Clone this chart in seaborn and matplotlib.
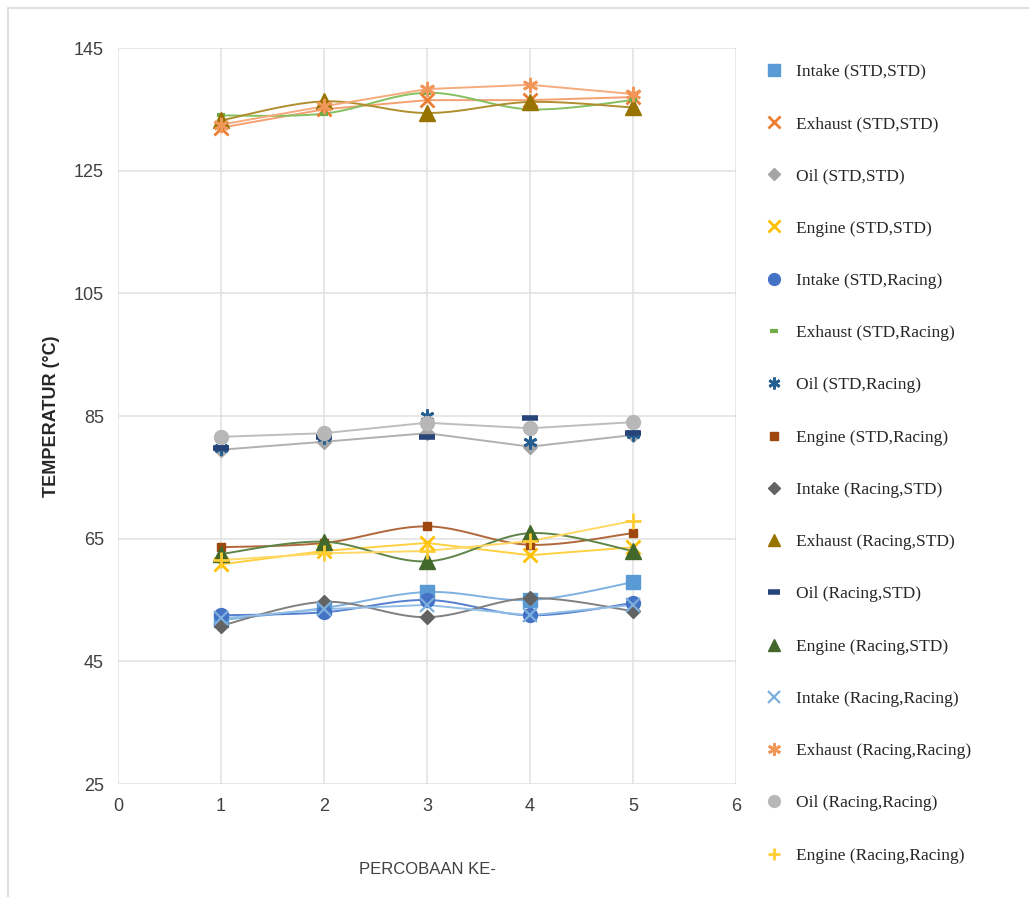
import numpy as np
import pandas as pd
import matplotlib
matplotlib.use("Agg")
import matplotlib.pyplot as plt
from matplotlib.lines import Line2D
import seaborn as sns

# ---------------- data ----------------
trials = [1, 2, 3, 4, 5]
series_names = [
    "Intake (STD,STD)", "Exhaust (STD,STD)", "Oil (STD,STD)", "Engine (STD,STD)",
    "Intake (STD,Racing)", "Exhaust (STD,Racing)", "Oil (STD,Racing)", "Engine (STD,Racing)",
    "Intake (Racing,STD)", "Exhaust (Racing,STD)", "Oil (Racing,STD)", "Engine (Racing,STD)",
    "Intake (Racing,Racing)", "Exhaust (Racing,Racing)", "Oil (Racing,Racing)", "Engine (Racing,Racing)",
]
intake_std_std = [51.7, 53.7, 56.3, 55.0, 57.9]
exhaust_std_std = [132.0, 135.0, 136.5, 136.5, 137.0]
oil_std_std = [79.5, 80.8, 82.2, 80.0, 81.9]
engine_std_std = [60.8, 63.0, 64.3, 62.3, 63.6]
intake_std_racing = [52.5, 53.0, 55.0, 52.5, 54.5]
exhaust_std_racing = [134.0, 134.3, 137.7, 135.0, 136.5]
oil_std_racing = [79.8, 81.5, 85.0, 80.8, 82.0]
engine_std_racing = [63.6, 64.3, 67.0, 64.0, 65.9]
intake_racing_std = [50.8, 54.7, 52.2, 55.3, 53.2]
exhaust_racing_std = [133.2, 136.3, 134.4, 136.2, 135.3]
oil_racing_std = [79.8, 81.5, 81.6, 84.7, 82.2]
engine_racing_std = [62.5, 64.5, 61.3, 65.9, 63.0]
intake_racing_racing = [52.0, 53.5, 54.2, 52.5, 54.2]
exhaust_racing_racing = [132.5, 135.5, 138.3, 139.0, 137.5]
oil_racing_racing = [81.6, 82.2, 83.9, 83.0, 84.0]
engine_racing_racing = [61.5, 62.6, 63.0, 64.6, 67.9]

values = [
    intake_std_std, exhaust_std_std, oil_std_std, engine_std_std,
    intake_std_racing, exhaust_std_racing, oil_std_racing, engine_std_racing,
    intake_racing_std, exhaust_racing_std, oil_racing_std, engine_racing_std,
    intake_racing_racing, exhaust_racing_racing, oil_racing_racing, engine_racing_racing,
]
x_ticks = [0, 1, 2, 3, 4, 5, 6]
y_ticks = [25, 45, 65, 85, 105, 125, 145]

# ---------------- styles ----------------
colors = ["#5B9BD5", "#ED7D31", "#A5A5A5", "#FFC000",
          "#4472C4", "#70AD47", "#255E91", "#9E480E",
          "#636363", "#997300", "#264478", "#43682B",
          "#7CAFDD", "#F1975A", "#B7B7B7", "#FFCD33"]
line_colors = ["#7FB2E0", "#F4A070", "#B0B0B0", "#FFD040",
               "#5580D0", "#85C060", None, "#B0673A",
               "#808080", "#B08E30", None, "#5E8448",
               "#92BEE6", "#F5AB7C", "#BDBDBD", "#FFD866"]
smooth = [True, False, False, False,
          True, True, False, True,
          True, True, False, True,
          False, False, False, False]
markers = ["s", "x", "D", "x",
           "o", "_", (6, 2, 0), "s",
           "D", "^", "_", "^",
           "x", (6, 2, 0), "o", "+"]
msizes = [10, 10, 7.5, 10, 10, 6, 10, 6, 7.5, 11, 11, 11, 10, 11, 10, 11]
mew = [1, 2, 1, 2, 1, 3, 2, 1, 1, 1, 4, 1, 1.6, 2, 1, 2]


def smooth_curve(xv, yv, n=30):
    xv = np.asarray(xv, float)
    yv = np.asarray(yv, float)
    P = np.column_stack([xv, yv])
    Pe = np.vstack([P[0], P, P[-1]])
    out = [P[0]]
    for i in range(len(P) - 1):
        p0, p1, p2, p3 = Pe[i], Pe[i + 1], Pe[i + 2], Pe[i + 3]
        c1 = p1 + (p2 - p0) / 6.0
        c2 = p2 - (p3 - p1) / 6.0
        t = np.linspace(0, 1, n)[1:, None]
        b = ((1 - t) ** 3) * p1 + 3 * ((1 - t) ** 2) * t * c1 + 3 * (1 - t) * t ** 2 * c2 + t ** 3 * p2
        out.extend(b)
    out = np.array(out)
    return out[:, 0], out[:, 1]


# ---------------- figure ----------------
sns.set_theme(style="white")
plt.rcParams["font.family"] = ["Liberation Sans Narrow", "Liberation Sans", "DejaVu Sans"]

fig = plt.figure(figsize=(10.29, 8.97), dpi=100)
ax = fig.add_axes([118 / 1029, 1 - 784 / 897, (736 - 118) / 1029, (784 - 48) / 897])

df = pd.DataFrame({
    "trial": np.tile(trials, len(series_names)),
    "temp": np.concatenate(values),
    "series": np.repeat(series_names, len(trials)),
})

for i, name in enumerate(series_names):
    sub = df[df["series"] == name]
    if line_colors[i] is not None:
        if smooth[i]:
            xs, ys = smooth_curve(sub["trial"], sub["temp"])
            ax.plot(xs, ys, color=line_colors[i], lw=1.4, zorder=2 + i * 0.01)
        else:
            sns.lineplot(data=sub, x="trial", y="temp", ax=ax, color=line_colors[i],
                         lw=1.4, legend=False, zorder=2 + i * 0.01)
for i, name in enumerate(series_names):
    sub = df[df["series"] == name]
    ax.plot(sub["trial"], sub["temp"], linestyle="none", marker=markers[i],
            markersize=msizes[i], color=colors[i], markeredgecolor=colors[i],
            markeredgewidth=mew[i], zorder=3 + i * 0.01)

ax.set_xlim(0, 6)
ax.set_ylim(25, 145)
ax.set_xticks(x_ticks)
ax.set_yticks(y_ticks)
ax.tick_params(axis="both", labelsize=13, colors="#404040", length=0, pad=10)
ax.grid(True, color="#E0E0E0", lw=1.1)
for s in ax.spines.values():
    s.set_visible(False)
ax.set_xlabel("PERCOBAAN KE-", fontsize=12, color="#404040", labelpad=34)
ax.set_ylabel("TEMPERATUR (°C)", fontsize=13, fontweight="bold", color="#262626", labelpad=10)

# outer chart border
fig.add_artist(Line2D([8 / 1029, 1.0], [1 - 8 / 897, 1 - 8 / 897], color="#D9D9D9", lw=1.2,
                      transform=fig.transFigure))
fig.add_artist(Line2D([8 / 1029, 8 / 1029], [1 - 8 / 897, 0.0], color="#D9D9D9", lw=1.2,
                      transform=fig.transFigure))

handles = [Line2D([], [], linestyle="none", marker=markers[i], markersize=msizes[i] * 0.85,
                  color=colors[i], markeredgecolor=colors[i], markeredgewidth=mew[i])
           for i in range(len(series_names))]
leg = fig.legend(handles, series_names, loc="upper left", bbox_to_anchor=(750 / 1029, 1 - 48 / 897),
                 frameon=False, handlelength=1.0, handletextpad=0.75, labelspacing=2.08,
                 prop={"family": ["Liberation Serif", "DejaVu Serif"], "size": 12.5})
for t in leg.get_texts():
    t.set_color("#262626")

fig.savefig("out.png", dpi=100)
